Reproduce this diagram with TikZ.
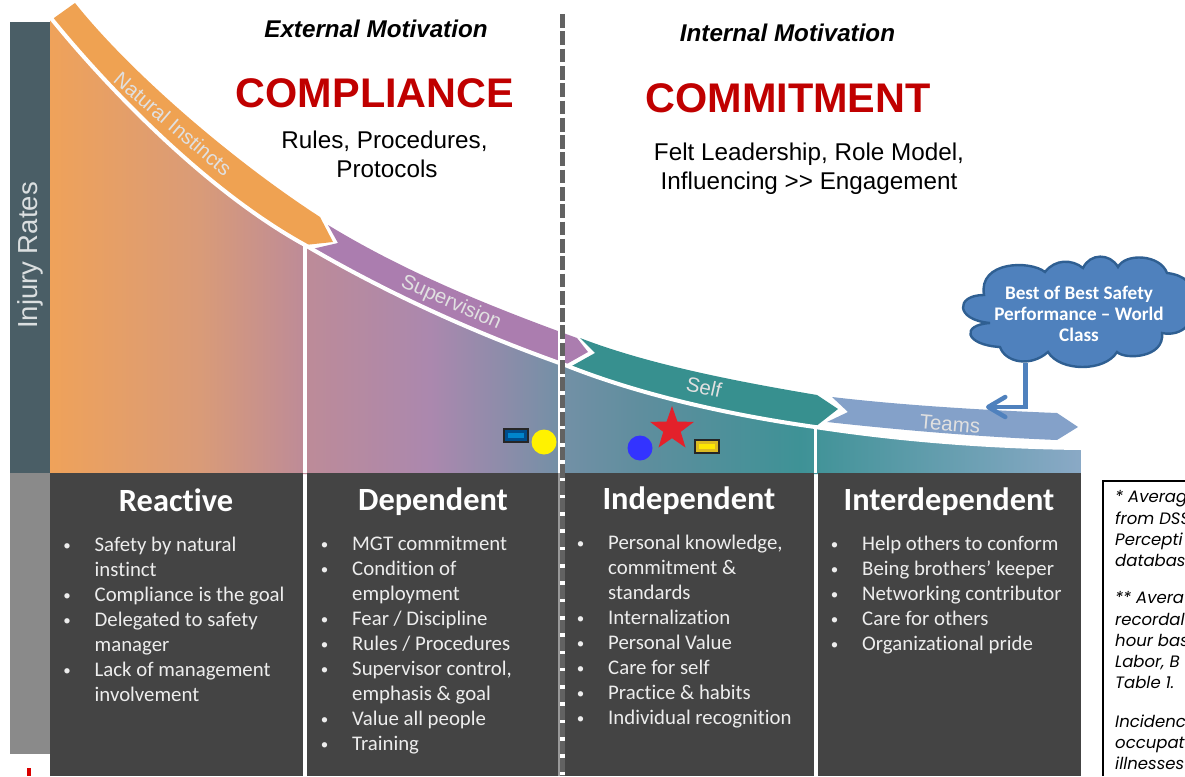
\documentclass[tikz,border=0pt]{standalone}
\usepackage{fontspec}
\setmainfont{Carlito}[Ligatures=NoCommon]
\newfontfamily\arialf{Liberation Sans}
\newfontfamily\gothicf{Poppins}
\usetikzlibrary{shapes.geometric,arrows.meta}
\definecolor{panelc}{HTML}{444444}
\definecolor{slatec}{HTML}{4A5E66}
\definecolor{greyc}{HTML}{8A8A8A}
\definecolor{bandO}{HTML}{EFA252}
\definecolor{bandP}{HTML}{AB7DAF}
\definecolor{bandT}{HTML}{37908F}
\definecolor{bandB}{HTML}{84A1C9}
\definecolor{cloudc}{HTML}{4F81BD}
\definecolor{cloudl}{HTML}{2F5F92}
\definecolor{redt}{HTML}{C00000}
\definecolor{starc}{HTML}{E3212B}
\definecolor{dashc}{HTML}{626262}
\definecolor{g1}{HTML}{EFA25A}
\definecolor{g2}{HTML}{D99B78}
\definecolor{g3}{HTML}{BD8B98}
\definecolor{g4}{HTML}{AB88AE}
\definecolor{g5}{HTML}{8E8CAA}
\definecolor{g6}{HTML}{7390A6}
\definecolor{g7}{HTML}{5F8E9E}
\definecolor{g8}{HTML}{3E9296}
\definecolor{g9}{HTML}{8AA9C6}
\newcommand{\bl}{\makebox[27.5pt][l]{\hspace*{-3.75pt}\raisebox{1.2pt}{\fontsize{15}{15}\selectfont •}}}
\newcommand{\ct}{\hspace*{27.5pt}}
\tikzset{
 panel/.style={fill=panelc,draw=none},
 paneltitle/.style={text=white,font=\fontsize{32.4}{36}\selectfont\bfseries,inner sep=0pt},
 panellist/.style={text=white!93!black,font=\fontsize{20.8}{25}\selectfont,align=left,anchor=north west,inner sep=0pt},
 bandlabel/.style={text=white!88!black,font=\arialf\fontsize{20.5}{22}\selectfont,inner sep=0pt},
 motiv/.style={font=\arialf\bfseries\itshape\fontsize{24.2}{28}\selectfont,inner sep=0pt},
 bigword/.style={text=redt,font=\arialf\bfseries\fontsize{41.4}{46}\selectfont,inner sep=0pt},
 subtext/.style={font=\arialf\fontsize{24.25}{29.3}\selectfont,align=center,inner sep=0pt},
 whiteline/.style={draw=white,line width=4pt},
 note/.style={font=\gothicf\itshape\fontsize{16.5}{20}\selectfont,anchor=base west,inner sep=0pt},
 dot/.style={circle,inner sep=0pt,minimum size=25pt},
 bevel/.style={fill=black!85,inner sep=0pt,minimum width=26.5pt,minimum height=15pt}
}
\begin{document}
\begin{tikzpicture}[x=1pt,y=-1pt]
\path[use as bounding box] (0,0) rectangle (1185,776);
\clip (0,0) rectangle (1185,776);
% left bars
\fill[slatec] (10,22) rectangle (50,473);
\fill[greyc] (10,473) rectangle (50,754);
\fill[red!85!black] (27,768) rectangle (31,776);
% gradient area under the curve
\begin{scope}
\clip (50,17) .. controls (105,85) and (205,190) .. (305,245)
 .. controls (390,295) and (480,335) .. (565,365)
 .. controls (640,395) and (730,415) .. (815,427)
 .. controls (900,440) and (990,447) .. (1081,448) -- (1081,474) -- (50,474) -- cycle;
\shade[left color=g1,right color=g2] (50,0) rectangle (200.5,480);
\shade[left color=g2,right color=g3] (200,0) rectangle (305.5,480);
\shade[left color=g3,right color=g4] (305,0) rectangle (430.5,480);
\shade[left color=g4,right color=g5] (430,0) rectangle (500.5,480);
\shade[left color=g5,right color=g6] (500,0) rectangle (560.5,480);
\shade[left color=g6,right color=g7] (560,0) rectangle (640.5,480);
\shade[left color=g7,right color=g8] (640,0) rectangle (800.5,480);
\shade[left color=g8,right color=g9] (800,0) rectangle (1081,480);
\end{scope}
% bands
\fill[bandO] (54,18) -- (75,3) .. controls (130,72) and (232,160) .. (320,217) -- (333,242) -- (305,245)
 .. controls (205,190) and (105,85) .. (52,20) -- cycle;
\fill[bandP] (328,225) .. controls (410,275) and (500,310) .. (577,338) -- (588,352) -- (565,365)
 .. controls (480,335) and (390,295) .. (312,249) -- (338,243) -- cycle;
\fill[bandT] (580,338) .. controls (650,365) and (740,382) .. (817,395) -- (838,409) -- (815,427)
 .. controls (730,415) and (640,395) .. (570,367) -- (595,353) -- cycle;
% white curve
\draw[whiteline] (50,17) .. controls (105,85) and (205,190) .. (305,245)
 .. controls (390,295) and (480,335) .. (565,365)
 .. controls (640,395) and (730,415) .. (815,427)
 .. controls (900,440) and (990,447) .. (1081,448);
\fill[bandB] (832,397) .. controls (900,405) and (980,410) .. (1057,413) -- (1078,427) -- (1057,440)
 .. controls (980,437) and (900,430) .. (827,422) -- (848,412) -- cycle;
\fill[white] (1081,380) rectangle (1100,474);
\draw[white,line width=4pt] (305,245) -- (305,473);
\draw[white,line width=3pt] (815.5,427) -- (815.5,473);
% panels
\fill[panel] (50,473) rectangle (303,776);
\fill[panel] (307,473) rectangle (558,776);
\fill[panel] (565,473) rectangle (814,776);
\fill[panel] (818,473) rectangle (1081,776);
% divider
\fill[white] (558,300) rectangle (565,473);
\fill[white!60!black] (558,473) rectangle (560.5,776);
\draw[white,line width=4.5pt] (562.7,14) -- (562.7,776);
\draw[dashc,line width=4.5pt,dash pattern=on 13.7pt off 3.6pt] (562.7,14) -- (562.7,776);
% band labels
\node[bandlabel,rotate=-40.5] (lnat) at (173,124) {Natural Instincts};
\node[bandlabel,rotate=-24] (lsup) at (451,303) {Supervision};
\node[bandlabel,rotate=-13] (lself) at (704,387) {Self};
\node[bandlabel,rotate=-5] (lteams) at (950,424) {Teams};
\node[text=white!80!slatec,font=\arialf\fontsize{27.5}{32}\selectfont,rotate=90,inner sep=0pt] (yax) at (30,255.5) {Injury Rates};
% headers
\node[motiv] (ext) at (376,29) {External Motivation};
\node[bigword] (comp) at (375,93) {COMPLIANCE};
\node[subtext] (rules) at (384.5,154) {Rules, Procedures,\\\hspace*{5pt}Protocols};
\node[motiv] (int) at (787.5,33) {Internal Motivation};
\node[bigword] (commit) at (788,98) {COMMITMENT};
\node[subtext] (felt) at (809,168.5) {Felt Leadership, Role Model,\\Influencing >{}> Engagement};
% panel text
\node[paneltitle] (t1) at (176,500) {Reactive};
\node[paneltitle] (t2) at (433,502) {Dependent};
\node[paneltitle] (t3) at (689,501) {Independent};
\node[paneltitle] (t4) at (949,502) {Interdependent};
\node[panellist] (l1) at (67,537) {\bl Safety by natural\\\ct instinct\\\bl Compliance is the goal\\\bl Delegated to safety\\\ct manager\\\bl Lack of management\\\ct involvement};
\node[panellist] (l2) at (324.5,536) {\bl MGT commitment\\\bl Condition of\\\ct employment\\\bl Fear / Discipline\\\bl Rules / Procedures\\\bl Supervisor control,\\\ct emphasis \& goal\\\bl Value all people\\\bl Training};
\node[panellist] (l3) at (580.5,535) {\bl Personal knowledge,\\\ct commitment \&\\\ct standards\\\bl Internalization\\\bl Personal Value\\\bl Care for self\\\bl Practice \& habits\\\bl Individual recognition};
\node[panellist] (l4) at (834.5,536) {\bl Help others to conform\\\bl Being brothers’ keeper\\\bl Networking contributor\\\bl Care for others\\\bl Organizational pride};
% markers
\node[bevel] (m1) at (516,435.5) {};
\begin{scope}[shift={(m1.center)}]
\fill[blue!45!cyan!55!black] (-11,-5.5) rectangle (11,5.5);
\fill[blue!35!cyan!80!black] (-8,-3) rectangle (8,2);
\end{scope}
\node[dot,fill=yellow] (m2) at (544,442) {};
\node[dot,fill=blue!80!white] (m3) at (640,448) {};
\node[star,star points=5,star point ratio=2.5,fill=starc,inner sep=0pt,minimum size=46pt] (m4) at (672,429) {};
\node[bevel] (m5) at (707,446.5) {};
\begin{scope}[shift={(m5.center)}]
\fill[yellow!70!orange!85!black] (-11,-5.5) rectangle (11,5.5);
\fill[yellow!90!orange] (-8,-2.5) rectangle (8,2);
\end{scope}
% cloud
\path[fill=cloudc,draw=cloudl,line width=2.4pt] (984,295)
 .. controls (978,261) and (1030,260) .. (1045,272)
 .. controls (1055,259) and (1072,259) .. (1083,268)
 .. controls (1090,253) and (1110,253) .. (1118,267)
 .. controls (1125,253) and (1160,254) .. (1167,273)
 .. controls (1185,275) and (1195,285) .. (1195,300)
 .. controls (1195,335) and (1170,335) .. (1162,333)
 .. controls (1165,358) and (1125,360) .. (1117,352)
 .. controls (1105,372) and (1060,372) .. (1048,352)
 .. controls (1030,368) and (1005,362) .. (1000,347)
 .. controls (965,345) and (960,325) .. (990,323)
 .. controls (955,320) and (955,295) .. (984,295) -- cycle;
\node[text=white,font=\fontsize{19.2}{21}\selectfont\bfseries,align=center,inner sep=0pt] (cloudt) at (1079,314) {Best of Best Safety\\Performance -- World\\Class};
% cloud arrow
\coordinate (cs) at (1025.5,363);
\coordinate (ce) at (986,407);
\draw[cloudc,line width=4.5pt,-{Straight Barb[length=17pt,width=20pt,line width=4.5pt,round]}] (cs) |- (ce);
% note box
\draw[black,line width=1.6pt] (1103,776) -- (1103,481) -- (1185,481);
\node[note] (n1) at (1115,502) {* Averag};
\node[note] (n2) at (1115,524) {from DSS};
\node[note] (n3) at (1115,545) {Percepti};
\node[note] (n4) at (1115,566) {databas};
\node[note] (n5) at (1115,603) {** Avera};
\node[note] (n6) at (1115,625) {recordal};
\node[note] (n7) at (1115,646) {hour bas};
\node[note] (n8) at (1115,667) {Labor, B};
\node[note] (n9) at (1115,688) {Table 1.};
\node[note] (n10) at (1115,727) {Incidenc};
\node[note] (n11) at (1115,748) {occupat};
\node[note] (n12) at (1115,769) {illnesses i};
\end{tikzpicture}
\end{document}
